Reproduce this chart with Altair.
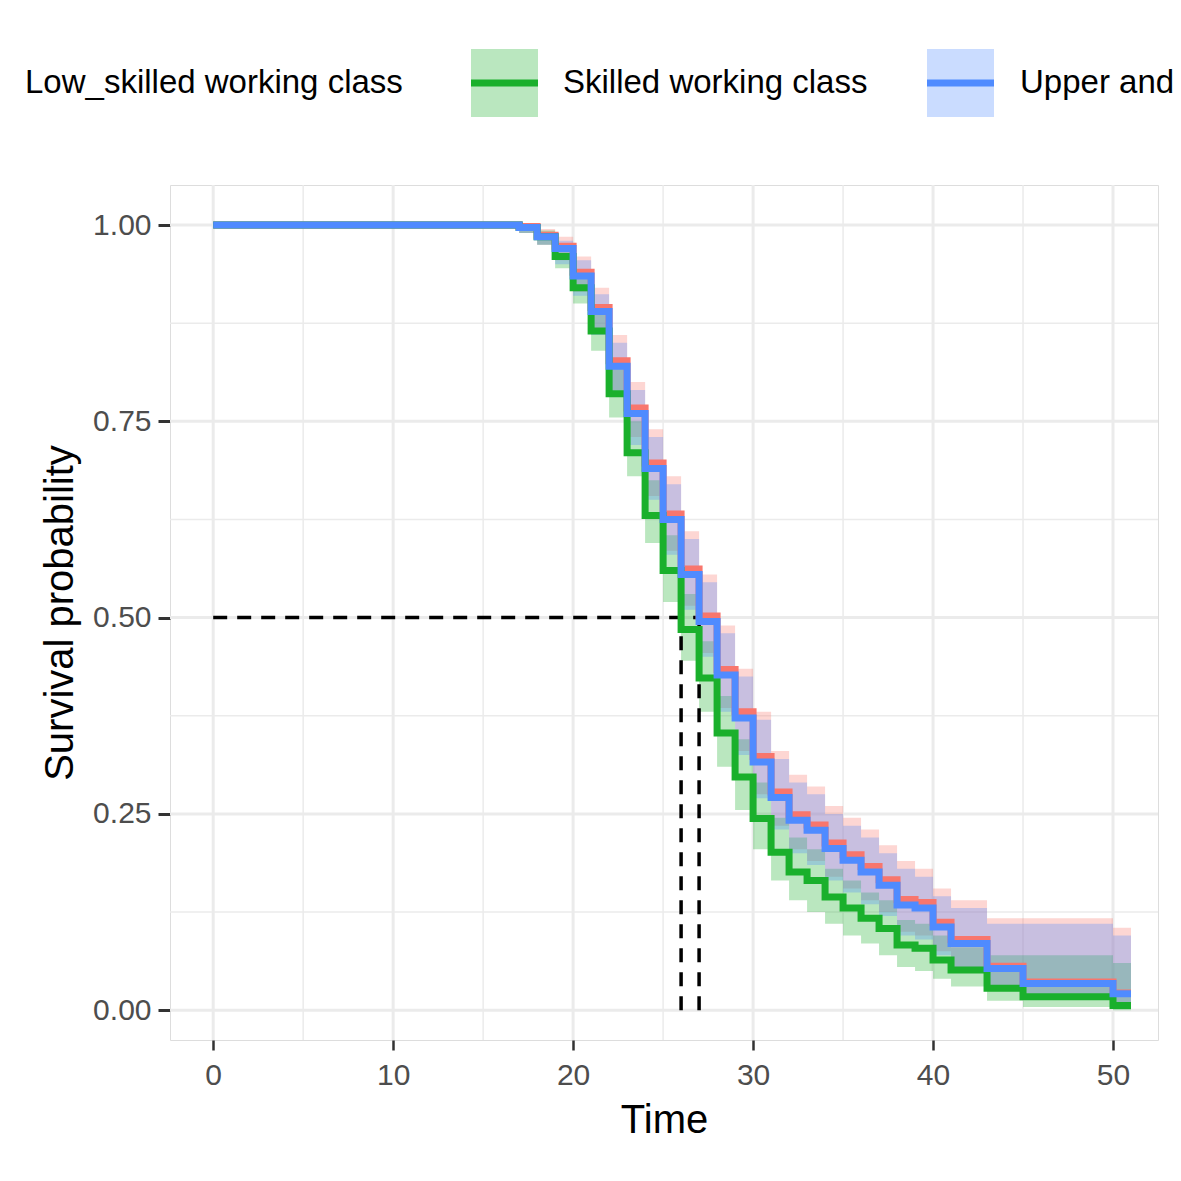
import altair as alt
import pandas as pd

# step times (last entry is the end of follow-up)
times = [0, 17, 18, 19, 20, 21, 22, 23, 24, 25, 26, 27, 28, 29, 30, 31, 32, 33, 34,
         35, 36, 37, 38, 39, 40, 41, 43, 45, 50, 51]

groups = ["Low_skilled working class", "Skilled working class", "Upper and middle class"]
colors = ["#F8766D", "#1AB02C", "#4F8BFF"]

low_s = [1, 0.998, 0.987, 0.973, 0.94, 0.895, 0.827, 0.767, 0.697, 0.632, 0.562, 0.502, 0.434,
         0.38, 0.323, 0.278, 0.249, 0.236, 0.213, 0.198, 0.183, 0.166, 0.141, 0.137, 0.112, 0.09,
         0.056, 0.036, 0.022, 0.022]
low_hi = [1, 1, 0.995, 0.985, 0.96, 0.92, 0.86, 0.80, 0.74, 0.68, 0.61, 0.555, 0.49, 0.435, 0.38,
          0.33, 0.30, 0.285, 0.26, 0.245, 0.23, 0.21, 0.19, 0.18, 0.155, 0.14, 0.117, 0.117, 0.105, 0.105]
low_lo = [1, 0.99, 0.975, 0.955, 0.915, 0.865, 0.79, 0.73, 0.655, 0.585, 0.515, 0.455, 0.385, 0.33,
          0.275, 0.235, 0.205, 0.19, 0.17, 0.155, 0.14, 0.125, 0.10, 0.095, 0.075, 0.055, 0.03, 0.015,
          0.008, 0.008]

skl_s = [1, 0.997, 0.985, 0.96, 0.92, 0.865, 0.785, 0.71, 0.63, 0.56, 0.485, 0.423, 0.353, 0.297,
         0.244, 0.201, 0.176, 0.165, 0.144, 0.130, 0.117, 0.104, 0.083, 0.079, 0.064, 0.051, 0.028,
         0.017, 0.006, 0.006]
skl_hi = [1, 1, 0.993, 0.975, 0.94, 0.89, 0.82, 0.75, 0.675, 0.605, 0.53, 0.47, 0.40, 0.345, 0.29,
          0.245, 0.22, 0.205, 0.18, 0.165, 0.15, 0.14, 0.115, 0.11, 0.095, 0.08, 0.07, 0.07, 0.06, 0.06]
skl_lo = [1, 0.99, 0.975, 0.945, 0.9, 0.84, 0.755, 0.68, 0.595, 0.52, 0.445, 0.38, 0.31, 0.255,
          0.205, 0.165, 0.14, 0.125, 0.11, 0.095, 0.085, 0.07, 0.055, 0.05, 0.04, 0.03, 0.012, 0.004,
          0.0, 0.0]

upp_s = [1, 0.997, 0.985, 0.97, 0.935, 0.89, 0.82, 0.76, 0.69, 0.625, 0.555, 0.495, 0.427, 0.372,
         0.316, 0.271, 0.242, 0.229, 0.206, 0.191, 0.176, 0.159, 0.134, 0.130, 0.106, 0.085, 0.053,
         0.034, 0.021, 0.021]
upp_hi = [1, 0.999, 0.99, 0.98, 0.955, 0.912, 0.85, 0.79, 0.73, 0.67, 0.60, 0.545, 0.48, 0.425,
          0.37, 0.32, 0.29, 0.275, 0.25, 0.235, 0.22, 0.2, 0.18, 0.17, 0.145, 0.13, 0.11, 0.11, 0.095, 0.095]
upp_lo = [1, 0.99, 0.975, 0.95, 0.91, 0.86, 0.785, 0.72, 0.65, 0.58, 0.51, 0.45, 0.38, 0.325, 0.27,
          0.23, 0.2, 0.185, 0.165, 0.15, 0.135, 0.12, 0.095, 0.09, 0.07, 0.052, 0.028, 0.014, 0.006, 0.006]

medians = [26, 27]
x_ticks = [0, 10, 20, 30, 40, 50]
x_minor = [5, 15, 25, 35, 45]
y_ticks = [0, 0.25, 0.5, 0.75, 1.0]
y_minor = [0.125, 0.375, 0.625, 0.875]

rows = []
for g, s, lo, hi in zip(groups, [low_s, skl_s, upp_s], [low_lo, skl_lo, upp_lo], [low_hi, skl_hi, upp_hi]):
    for i, t in enumerate(times):
        rows.append({"group": g, "time": t, "surv": s[i], "lower": lo[i], "upper": hi[i]})
df = pd.DataFrame(rows)

xs = alt.Scale(domain=[-2.4, 52.5], nice=False, zero=False)
ys = alt.Scale(domain=[-0.038, 1.051], nice=False, zero=False)
col = alt.Color("group:N", scale=alt.Scale(domain=groups, range=colors), legend=None)
grid_col = "#EBEBEB"

grid = alt.layer(
    alt.Chart(pd.DataFrame({"v": x_ticks})).mark_rule(color=grid_col, strokeWidth=3).encode(
        x=alt.X("v:Q", scale=xs)),
    alt.Chart(pd.DataFrame({"v": x_minor})).mark_rule(color=grid_col, strokeWidth=1.5).encode(
        x=alt.X("v:Q", scale=xs)),
    alt.Chart(pd.DataFrame({"v": y_ticks})).mark_rule(color=grid_col, strokeWidth=3).encode(
        y=alt.Y("v:Q", scale=ys)),
    alt.Chart(pd.DataFrame({"v": y_minor})).mark_rule(color=grid_col, strokeWidth=1.5).encode(
        y=alt.Y("v:Q", scale=ys)),
)

base = alt.Chart(df)
bands = base.mark_area(interpolate="step-after", opacity=0.3).encode(
    x=alt.X("time:Q", scale=xs), y=alt.Y("lower:Q", scale=ys), y2="upper:Q", color=col)
lines = base.mark_line(interpolate="step-after", strokeWidth=7, strokeCap="butt").encode(
    x=alt.X("time:Q", scale=xs,
            axis=alt.Axis(values=x_ticks, title="Time", grid=False, domain=False, tickColor="#333333",
                          tickWidth=2.5, tickSize=10, labelFontSize=30, labelColor="#4D4D4D",
                          titleFontSize=40, titleFontWeight="normal", titleColor="black",
                          labelPadding=10, titlePadding=10)),
    y=alt.Y("surv:Q", scale=ys,
            axis=alt.Axis(values=y_ticks, format=".2f", title="Survival probability", grid=False,
                          domain=False, tickColor="#333333", tickWidth=3, tickSize=12,
                          labelFontSize=30, labelColor="#4D4D4D", titleFontSize=40,
                          titleFontWeight="normal", titleColor="black", labelPadding=7,
                          titlePadding=12)),
    color=col, order=alt.Order("time:Q"))

med = pd.DataFrame({"t": medians, "p": [0.5, 0.5], "z": [0, 0]})
hline = alt.Chart(pd.DataFrame({"a": [0], "b": [max(medians)], "p": [0.5]})).mark_rule(
    color="black", strokeWidth=3.5, strokeDash=[14, 10]).encode(
    x=alt.X("a:Q", scale=xs), x2="b:Q", y=alt.Y("p:Q", scale=ys))
vline = alt.Chart(med).mark_rule(color="black", strokeWidth=3.5, strokeDash=[14, 10]).encode(
    x=alt.X("t:Q", scale=xs), y=alt.Y("z:Q", scale=ys), y2="p:Q")

# manual top legend (plot-relative pixel offsets)
leg = pd.DataFrame({"label": groups, "tx": [-145, 393, 850], "kx": [-245, 301, 757], "c": colors})
leg_text = alt.Chart(leg).mark_text(align="left", baseline="middle", fontSize=33, color="black").encode(
    x=alt.X("tx:Q", scale=None), y=alt.value(-102), text="label:N")
leg_box = alt.Chart(leg).mark_rect(opacity=0.3).encode(
    x=alt.X("kx:Q", scale=None), x2=alt.X2("kx2:Q"), y=alt.value(-136), y2=alt.value(-68),
    color=alt.Color("c:N", scale=None)).transform_calculate(kx2="datum.kx + 67")
leg_line = alt.Chart(leg).mark_rule(strokeWidth=7).encode(
    x=alt.X("kx:Q", scale=None), x2=alt.X2("kx2:Q"), y=alt.value(-102),
    color=alt.Color("c:N", scale=None)).transform_calculate(kx2="datum.kx + 67")

chart = alt.layer(grid, bands, hline, vline, lines, leg_box, leg_line, leg_text).properties(
    width=988, height=855, autosize="none",
    padding={"left": 162, "top": 177, "right": 15, "bottom": 130},
).configure_view(strokeWidth=0, strokeOpacity=0).configure(font="Liberation Sans")

chart.save("out.html", embed_options={"renderer": "svg", "actions": False})
